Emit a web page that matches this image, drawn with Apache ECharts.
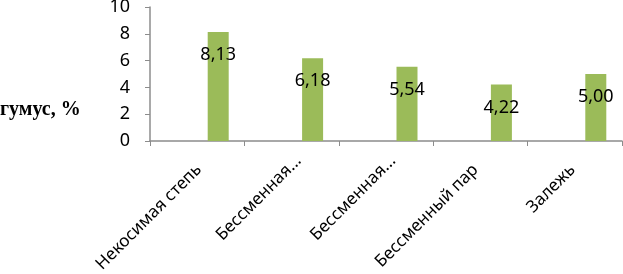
<!DOCTYPE html>
<html><head><meta charset="utf-8">
<script src="https://cdn.jsdelivr.net/npm/echarts@6/dist/echarts.min.js"></script>
<style>html,body{margin:0;padding:0;background:#fff}#c{width:623px;height:274px}</style>
</head><body><div id="c"></div>
<script>
const categories = ['Некосимая степь', 'Бессменная...', 'Бессменная...', 'Бессменный пар', 'Залежь'];
const humusValues = [8.13, 6.18, 5.54, 4.22, 5.00];
const emptySeries = [null, null, null, null, null];
const yTicks = {min: 0, max: 10, interval: 2};
const yTitle = 'гумус, %';

const chart = echarts.init(document.getElementById('c'), null, {renderer: 'canvas'});
const font = 'Noto Sans';
// per-label placement nudges (padding: top, right, bottom, left)
const labelPads = [[25, 10, 0, 0], [20, 0, 0, 0], [20, 0, 0, 0], [16, 15, 0, 0], [20, 13, 0, 0]];
const rich = {};
labelPads.forEach((p, i) => { rich['p' + i] = {padding: p, color: '#000', fontFamily: font, fontSize: 17}; });
chart.setOption({
  animation: false,
  grid: {left: 150, right: 1, top: 7, bottom: 133, containLabel: false, outerBoundsMode: 'none'},
  xAxis: {
    type: 'category', data: categories,
    axisLine: {lineStyle: {color: '#8c8c8c', width: 1.5}},
    axisTick: {show: true, length: 5, lineStyle: {color: '#8c8c8c'}},
    axisLabel: {rotate: 45, interval: 0, margin: 10, color: '#000', fontFamily: font, fontSize: 17,
      formatter: (v, i) => '{p' + i + '|' + v + '}', rich: rich}
  },
  yAxis: {
    type: 'value', min: yTicks.min, max: yTicks.max, interval: yTicks.interval,
    axisLine: {show: true, lineStyle: {color: '#8c8c8c', width: 1.5}},
    axisTick: {show: true, length: 5, lineStyle: {color: '#8c8c8c'}},
    splitLine: {show: false},
    axisLabel: {margin: 20, color: '#000', fontFamily: font, fontSize: 18}
  },
  graphic: [{type: 'text', left: 0, top: 100, style: {text: yTitle, font: 'bold 20px "Liberation Serif"', fill: '#000'}}],
  series: [
    {type: 'bar', data: emptySeries, barWidth: 21, barGap: '100%', itemStyle: {color: '#4F81BD'}},
    {type: 'bar', data: humusValues, barWidth: 21, barGap: '100%', itemStyle: {color: '#9BBB59'},
     label: {show: true, position: 'insideTop', distance: 14, color: '#000', fontFamily: font, fontSize: 18,
       formatter: p => p.value.toFixed(2).replace('.', ',')}}
  ]
});
</script></body></html>
